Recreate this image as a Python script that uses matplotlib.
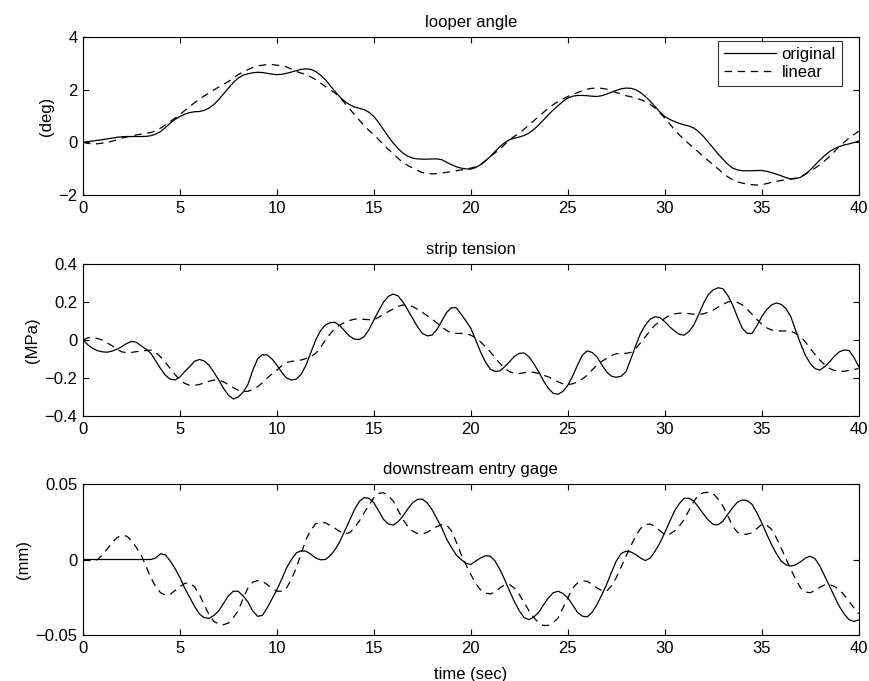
import numpy as np
import matplotlib
matplotlib.use("Agg")
import matplotlib.pyplot as plt

plt.rcParams['font.family'] = ['Liberation Sans', 'DejaVu Sans']
FS = 12

# time axis, 0.25 s steps (8 samples per row below = 2 s)
t = np.arange(0, 40.01, 0.25)

# looper angle (deg)
angle_orig = [0, 0.025, 0.05, 0.075, 0.1, 0.13, 0.16, 0.19,
              0.21, 0.22, 0.22, 0.22, 0.22, 0.225, 0.25, 0.31,
              0.41, 0.56, 0.73, 0.87, 0.98, 1.07, 1.13, 1.16,
              1.17, 1.21, 1.30, 1.44, 1.62, 1.84, 2.06, 2.27,
              2.44, 2.55, 2.60, 2.64, 2.66, 2.65, 2.62, 2.59,
              2.57, 2.58, 2.62, 2.67, 2.72, 2.77, 2.79, 2.77,
              2.69, 2.55, 2.38, 2.15, 1.93, 1.72, 1.55, 1.43,
              1.34, 1.29, 1.24, 1.14, 0.98, 0.75, 0.48, 0.21,
              -0.03, -0.24, -0.41, -0.53, -0.60, -0.63, -0.64, -0.64,
              -0.63, -0.63, -0.66, -0.76, -0.85, -0.93, -0.98, -1.01,
              -1.02, -0.96, -0.85, -0.71, -0.54, -0.35, -0.16, -0.01,
              0.10, 0.16, 0.20, 0.26, 0.35, 0.49, 0.66, 0.85,
              1.05, 1.23, 1.39, 1.55, 1.68, 1.75, 1.78, 1.78,
              1.77, 1.75, 1.74, 1.77, 1.83, 1.90, 1.97, 2.03,
              2.06, 2.05, 2.00, 1.89, 1.74, 1.56, 1.36, 1.15,
              0.98, 0.87, 0.79, 0.72, 0.66, 0.62, 0.54, 0.40,
              0.22, 0.00, -0.22, -0.44, -0.64, -0.83, -0.98, -1.05,
              -1.08, -1.08, -1.08, -1.07, -1.07, -1.10, -1.15, -1.21,
              -1.27, -1.34, -1.39, -1.38, -1.33, -1.21, -1.05, -0.86,
              -0.67, -0.50, -0.35, -0.24, -0.16, -0.10, -0.06, -0.01,
              0.05]
angle_lin = [0, -0.04, -0.06, -0.055, -0.03, 0.0, 0.04, 0.10,
             0.16, 0.20, 0.24, 0.28, 0.31, 0.34, 0.37, 0.44,
             0.54, 0.66, 0.79, 0.92, 1.05, 1.21, 1.36, 1.50,
             1.64, 1.76, 1.87, 1.99, 2.10, 2.20, 2.31, 2.44,
             2.57, 2.67, 2.76, 2.84, 2.90, 2.93, 2.95, 2.95,
             2.93, 2.90, 2.86, 2.78, 2.69, 2.63, 2.57, 2.48,
             2.38, 2.25, 2.12, 2.00, 1.87, 1.69, 1.49, 1.27,
             1.05, 0.84, 0.63, 0.45, 0.29, 0.10, -0.10, -0.27,
             -0.44, -0.61, -0.77, -0.88, -0.98, -1.07, -1.15, -1.18,
             -1.20, -1.19, -1.17, -1.14, -1.11, -1.08, -1.05, -1.02,
             -0.98, -0.93, -0.85, -0.70, -0.54, -0.40, -0.26, -0.08,
             0.10, 0.23, 0.35, 0.50, 0.66, 0.82, 0.98, 1.14,
             1.30, 1.43, 1.55, 1.65, 1.74, 1.82, 1.89, 1.96,
             2.02, 2.05, 2.06, 2.05, 2.02, 1.96, 1.89, 1.83,
             1.77, 1.73, 1.68, 1.62, 1.55, 1.44, 1.30, 1.12,
             0.92, 0.70, 0.48, 0.28, 0.10, -0.06, -0.22, -0.38,
             -0.54, -0.70, -0.85, -1.01, -1.17, -1.31, -1.42, -1.50,
             -1.55, -1.59, -1.61, -1.62, -1.61, -1.57, -1.52, -1.48,
             -1.45, -1.42, -1.40, -1.36, -1.30, -1.21, -1.10, -0.98,
             -0.85, -0.70, -0.54, -0.35, -0.16, 0.00, 0.16, 0.29,
             0.42]

# strip tension (MPa)
tension_orig = [0, -0.025, -0.044, -0.056, -0.062, -0.064, -0.058, -0.048,
                -0.035, -0.018, -0.007, -0.012, -0.03, -0.048, -0.07, -0.11,
                -0.15, -0.185, -0.206, -0.21, -0.194, -0.165, -0.14, -0.112,
                -0.102, -0.110, -0.132, -0.17, -0.21, -0.255, -0.29, -0.31,
                -0.30, -0.275, -0.235, -0.16, -0.10, -0.077, -0.079, -0.10,
                -0.132, -0.17, -0.20, -0.21, -0.205, -0.18, -0.132, -0.065,
                0.0, 0.05, 0.079, 0.092, 0.093, 0.075, 0.048, 0.02,
                0.005, 0.003, 0.018, 0.055, 0.106, 0.155, 0.20, 0.23,
                0.242, 0.232, 0.20, 0.158, 0.114, 0.07, 0.035, 0.022,
                0.026, 0.055, 0.10, 0.145, 0.17, 0.17, 0.136, 0.10,
                0.062, 0.0, -0.062, -0.115, -0.153, -0.165, -0.162, -0.14,
                -0.114, -0.085, -0.07, -0.068, -0.088, -0.125, -0.167, -0.215,
                -0.255, -0.28, -0.285, -0.27, -0.238, -0.19, -0.132, -0.08,
                -0.057, -0.065, -0.088, -0.13, -0.167, -0.19, -0.196, -0.19,
                -0.167, -0.10, -0.03, 0.035, 0.079, 0.11, 0.123, 0.118,
                0.097, 0.07, 0.048, 0.03, 0.026, 0.045, 0.079, 0.135,
                0.194, 0.24, 0.264, 0.275, 0.27, 0.235, 0.185, 0.12,
                0.062, 0.035, 0.035, 0.075, 0.123, 0.16, 0.185, 0.195,
                0.188, 0.165, 0.123, 0.05, -0.018, -0.08, -0.123, -0.15,
                -0.158, -0.14, -0.114, -0.085, -0.062, -0.052, -0.055, -0.09,
                -0.14]
tension_lin = [0, 0.012, 0.015, 0.008, 0.0, -0.015, -0.03, -0.048,
               -0.062, -0.066, -0.065, -0.061, -0.058, -0.055, -0.053, -0.065,
               -0.088, -0.118, -0.15, -0.182, -0.21, -0.228, -0.238, -0.238,
               -0.234, -0.225, -0.217, -0.21, -0.21, -0.22, -0.234, -0.25,
               -0.264, -0.27, -0.27, -0.26, -0.246, -0.225, -0.20, -0.178,
               -0.158, -0.135, -0.118, -0.112, -0.11, -0.105, -0.097, -0.087,
               -0.07, -0.038, 0.0, 0.033, 0.062, 0.08, 0.093, 0.103,
               0.11, 0.11, 0.109, 0.107, 0.106, 0.12, 0.136, 0.15,
               0.164, 0.177, 0.185, 0.183, 0.176, 0.162, 0.146, 0.128,
               0.11, 0.09, 0.07, 0.05, 0.038, 0.035, 0.035, 0.032,
               0.026, 0.01, -0.009, -0.035, -0.062, -0.093, -0.123, -0.148,
               -0.167, -0.175, -0.176, -0.172, -0.168, -0.17, -0.176, -0.185,
               -0.194, -0.207, -0.22, -0.23, -0.234, -0.23, -0.22, -0.205,
               -0.185, -0.158, -0.132, -0.112, -0.097, -0.082, -0.072, -0.07,
               -0.07, -0.065, -0.045, -0.015, 0.018, 0.05, 0.079, 0.098,
               0.114, 0.13, 0.138, 0.141, 0.141, 0.139, 0.136, 0.135,
               0.138, 0.147, 0.158, 0.173, 0.188, 0.2, 0.205, 0.198,
               0.185, 0.162, 0.136, 0.108, 0.083, 0.065, 0.053, 0.049,
               0.048, 0.048, 0.046, 0.035, 0.018, -0.01, -0.044, -0.076,
               -0.106, -0.13, -0.15, -0.16, -0.164, -0.164, -0.16, -0.155,
               -0.15]

# downstream entry gage (mm)
gage_orig = [0, 0, 0, 0, 0, 0, 0, 0,
             0, 0, 0, 0, 0, 0, 0, 0.001,
             0.0038, 0.003, -0.001, -0.006, -0.012, -0.019, -0.025, -0.031,
             -0.036, -0.0385, -0.039, -0.037, -0.034, -0.029, -0.024, -0.021,
             -0.021, -0.024, -0.028, -0.034, -0.0376, -0.037, -0.032, -0.026,
             -0.020, -0.013, -0.0055, 0.0, 0.0044, 0.0058, 0.0055, 0.0035,
             0.001, -0.0002, 0.0, 0.0025, 0.0066, 0.012, 0.019, 0.026,
             0.033, 0.0385, 0.041, 0.0405, 0.0376, 0.032, 0.0265, 0.0235,
             0.0228, 0.025, 0.0288, 0.0335, 0.0376, 0.0398, 0.040, 0.0375,
             0.033, 0.027, 0.021, 0.0135, 0.008, 0.003, 0.0, -0.0025,
             -0.0033, -0.001, 0.001, 0.0025, 0.0022, -0.001, -0.0066, -0.0135,
             -0.021, -0.028, -0.034, -0.0385, -0.0398, -0.038, -0.035, -0.030,
             -0.0254, -0.022, -0.021, -0.0225, -0.0254, -0.030, -0.035, -0.0375,
             -0.038, -0.035, -0.030, -0.0235, -0.0166, -0.0085, -0.001, 0.004,
             0.0055, 0.005, 0.0033, 0.001, -0.0007, 0.001, 0.0055, 0.011,
             0.0177, 0.025, 0.032, 0.037, 0.0405, 0.0405, 0.0387, 0.0345,
             0.030, 0.026, 0.0232, 0.023, 0.0254, 0.030, 0.0343, 0.038,
             0.0394, 0.039, 0.0365, 0.031, 0.0243, 0.017, 0.010, 0.004,
             -0.001, -0.0035, -0.0044, -0.0035, -0.0015, 0.001, 0.0022, 0.0005,
             -0.0044, -0.011, -0.0177, -0.0245, -0.031, -0.036, -0.0398, -0.041,
             -0.040]
gage_lin = [0, -0.0005, -0.001, 0.0, 0.003, 0.007, 0.011, 0.0145,
            0.016, 0.0155, 0.0126, 0.008, 0.003, -0.0045, -0.012, -0.018,
            -0.022, -0.0235, -0.023, -0.0205, -0.018, -0.0158, -0.0155, -0.018,
            -0.023, -0.030, -0.0365, -0.041, -0.0427, -0.0432, -0.042, -0.0385,
            -0.034, -0.026, -0.019, -0.015, -0.014, -0.0145, -0.0166, -0.019,
            -0.021, -0.021, -0.0188, -0.013, -0.0055, 0.004, 0.0133, 0.0195,
            0.0237, 0.0248, 0.0243, 0.0225, 0.0206, 0.0185, 0.017, 0.0178,
            0.021, 0.0255, 0.031, 0.036, 0.041, 0.0438, 0.0442, 0.042,
            0.0387, 0.0325, 0.0265, 0.022, 0.0188, 0.0172, 0.017, 0.018,
            0.020, 0.0218, 0.023, 0.0228, 0.019, 0.0115, 0.0033, -0.0035,
            -0.010, -0.016, -0.020, -0.0223, -0.0228, -0.0215, -0.0188, -0.0168,
            -0.0166, -0.019, -0.0232, -0.0285, -0.034, -0.0385, -0.042, -0.0437,
            -0.0436, -0.0418, -0.0387, -0.032, -0.0254, -0.019, -0.0155, -0.0142,
            -0.0144, -0.0165, -0.0188, -0.0205, -0.021, -0.0175, -0.012, -0.005,
            0.0022, 0.009, 0.0155, 0.0205, 0.0232, 0.0235, 0.022, 0.019,
            0.0166, 0.0168, 0.0188, 0.0222, 0.0265, 0.0325, 0.0387, 0.0428,
            0.0442, 0.0445, 0.0436, 0.040, 0.0354, 0.029, 0.022, 0.018,
            0.0166, 0.0168, 0.0177, 0.0205, 0.0232, 0.0228, 0.020, 0.0145,
            0.0077, 0.0005, -0.0066, -0.013, -0.0188, -0.0215, -0.022, -0.0205,
            -0.0184, -0.0168, -0.0166, -0.0178, -0.020, -0.0235, -0.0276, -0.032,
            -0.036]

titles = ['looper angle', 'strip tension', 'downstream entry gage']
ylabels = ['(deg)', '(MPa)', '(mm)']
ylims = [(-2, 4), (-0.4, 0.4), (-0.05, 0.05)]
yticks = [[-2, 0, 2, 4], [-0.4, -0.2, 0, 0.2, 0.4], [-0.05, 0, 0.05]]
ytick_labels = [['\u22122', '0', '2', '4'],
                ['\u22120.4', '\u22120.2', '0', '0.2', '0.4'],
                ['\u22120.05', '0', '0.05']]
series = [(angle_orig, angle_lin), (tension_orig, tension_lin), (gage_orig, gage_lin)]

fig = plt.figure(figsize=(8.7, 6.81), dpi=100)
boxes = [[0.0954, 0.7137, 0.8916, 0.232],
         [0.0954, 0.3890, 0.8916, 0.2233],
         [0.0954, 0.0675, 0.8916, 0.2218]]

dash = (0, (6, 4.5))
for i in range(3):
    ax = fig.add_axes(boxes[i])
    orig, lin = series[i]
    ax.plot(t, orig, color='black', lw=0.9, label='original')
    ax.plot(t, lin, color='black', lw=0.9, linestyle=dash, label='linear')
    ax.set_xlim(0, 40)
    ax.set_ylim(*ylims[i])
    ax.set_xticks(range(0, 41, 5))
    ax.set_yticks(yticks[i])
    ax.set_yticklabels(ytick_labels[i])
    ax.tick_params(direction='in', top=True, right=True, length=4, width=0.8,
                   labelsize=FS, pad=4)
    for s in ax.spines.values():
        s.set_linewidth(0.8)
    ax.set_title(titles[i], fontsize=FS, pad=7)
    ax.set_ylabel(ylabels[i], fontsize=FS, labelpad=3)
    if i == 0:
        leg = ax.legend(loc='upper right', bbox_to_anchor=(0.978, 0.975),
                        fontsize=FS, handlelength=3.1, frameon=True,
                        fancybox=False, borderaxespad=0, handletextpad=0.35,
                        borderpad=0.35, labelspacing=0.2)
        leg.get_frame().set_edgecolor('black')
        leg.get_frame().set_linewidth(0.8)

ax.set_xlabel('time (sec)', fontsize=FS, labelpad=8)

fig.savefig('out.png', dpi=100)
